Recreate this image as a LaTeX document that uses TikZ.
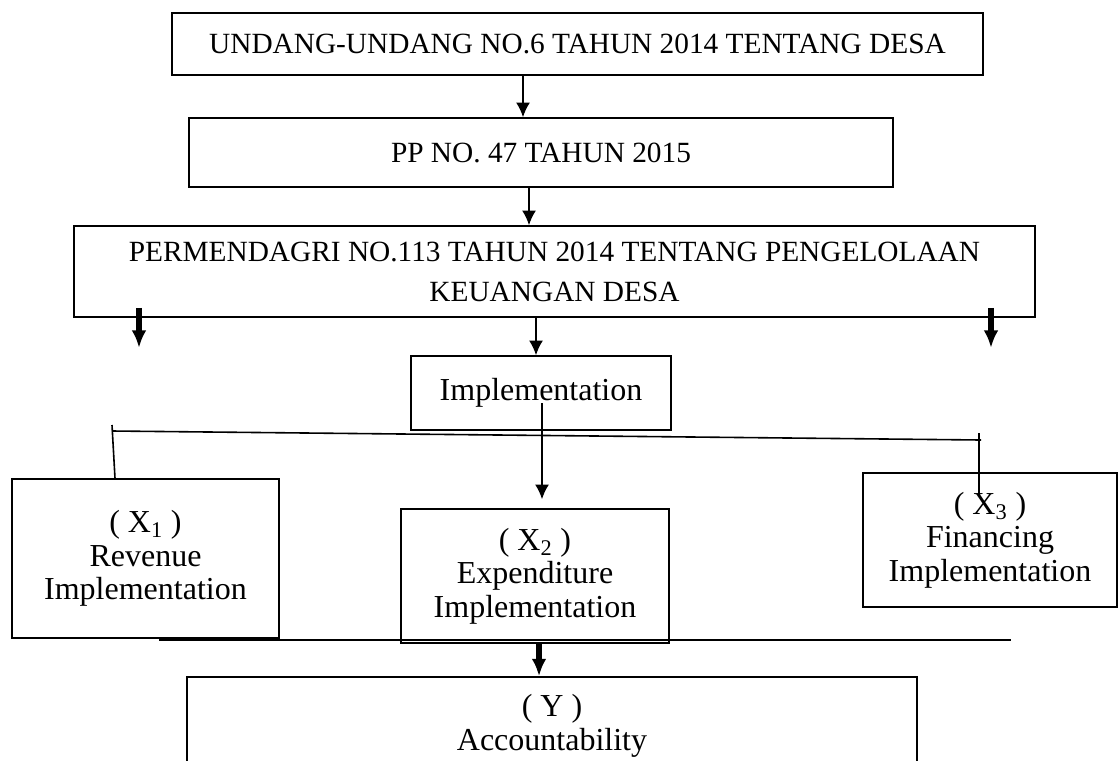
\documentclass[tikz,border=0pt]{standalone}
\usepackage{fontspec}
\setmainfont{Liberation Serif}
\usetikzlibrary{arrows.meta,calc}
\tikzset{
  box/.style = {draw=black, line width=1.2pt, inner sep=0pt, align=center,
    font=\fontsize{24pt}{25pt}\selectfont},% text boxes
  capsbox/.style = {box, font=\fontsize{22pt}{30pt}\selectfont},% rule boxes
  plain/.style = {-, line width=1.2pt},
  link/.style = {->, line width=1.2pt},
  boldlink/.style = {-{Latex[length=13pt,width=11pt]}, line width=3.8pt}% heavy arrows
}
\begin{document}
\begin{tikzpicture}[x=0.75pt, y=-0.75pt, >={Latex[length=11pt,width=10.5pt]}]
\useasboundingbox (0,0) rectangle (1119,760);
% rules
\node[capsbox, minimum width=608.25pt, minimum height=46.5pt] (uu) at (577.5,44)
  {UNDANG-UNDANG NO.6 TAHUN 2014 TENTANG DESA};
\node[capsbox, minimum width=528pt, minimum height=51.75pt] (pp) at (541,152.5)
  {PP NO. 47 TAHUN 2015};
\node[capsbox, minimum width=720.75pt, minimum height=68.25pt] (pm) at (554.5,271.5)
  {PERMENDAGRI NO.113 TAHUN 2014 TENTANG PENGELOLAAN\\KEUANGAN DESA};
\node[box, minimum width=195pt, minimum height=55.5pt] (impl) at (541,393)
  {Implementation};
% variables
\node[box, minimum width=200.25pt, minimum height=119.25pt] (xone) at (145.5,558.5)
  {( X\textsubscript{1} )\\Revenue\\Implementation};
\node[box, minimum width=201pt, minimum height=100.5pt] (xtwo) at (535,576)
  {( X\textsubscript{2} )\\Expenditure\\Implementation};
\node[box, minimum width=190.5pt, minimum height=100.5pt] (xthree) at (990,540)
  {( X\textsubscript{3} )\\Financing\\Implementation};
\node[box, minimum width=547.5pt, minimum height=73.5pt] (acc) at (552,726)
  {( Y )\\Accountability};
% arrows
\draw[link] ($(uu.south)+(-54.5,0)$) -- ($(pp.north)+(-18,0)$);
\draw[link] ($(pp.south)+(-12,0)$) -- ($(pm.north)+(-25.5,0)$);
\draw[boldlink] ($(pm.south)+(-415.5,-10)$) -- ++(0,40);
\draw[boldlink] ($(pm.south)+(436.5,-10)$) -- ++(0,40);
\draw[link] ($(pm.south)+(-18.5,0)$) -- ($(impl.north)+(-5,0)$);
\draw[link] ($(impl.center)+(1,10)$) -- ($(xtwo.north)+(7,-9)$);
% split bar
\coordinate (barL) at (112,431);
\coordinate (barR) at (981,440);
\draw[plain] (barL) -- (barR);
\draw[plain] ($(barL)+(0,-6)$) -- ($(xone.north)+(-30.5,0)$);
\draw[plain] ($(barR)+(-2,-7)$) -- ($(xthree.north)+(-11,24)$);
% join bar
\draw[plain] ($(xtwo.south)+(-376,-4)$) -- ($(xtwo.south)+(476,-4)$);
\draw[boldlink] ($(xtwo.south)+(4,0)$) -- ($(acc.north)+(-13,0)$);
\end{tikzpicture}
\end{document}
